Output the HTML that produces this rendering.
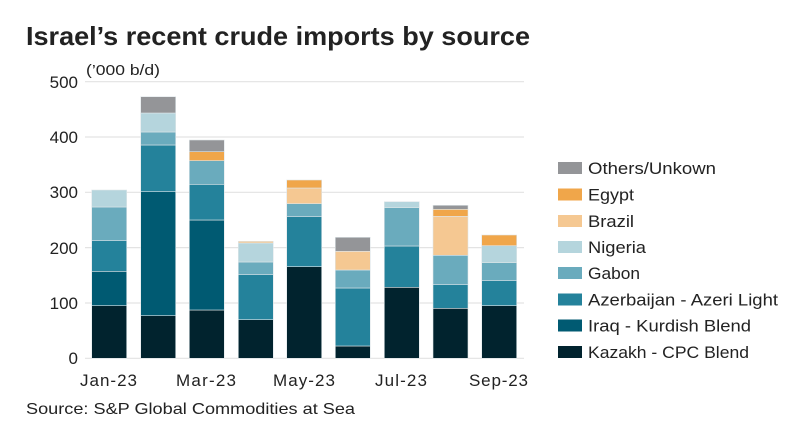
<!DOCTYPE html>
<html><head><meta charset="utf-8"><style>
body{margin:0;background:#fff;}
svg text{font-family:"Liberation Sans",sans-serif;fill:#222;}
</style></head><body>
<svg width="808" height="435" xmlns="http://www.w3.org/2000/svg">
<text x="26" y="45" font-size="26" font-weight="bold" fill="#111" textLength="504" lengthAdjust="spacingAndGlyphs">Israel’s recent crude imports by source</text>
<text x="86" y="75" font-size="15" textLength="74" lengthAdjust="spacingAndGlyphs">(’000 b/d)</text>
<g stroke="#e3e3e3" stroke-width="1.2">
<line x1="85" x2="524" y1="81.7" y2="81.7"/><line x1="85" x2="524" y1="137" y2="137"/>
<line x1="85" x2="524" y1="192.3" y2="192.3"/><line x1="85" x2="524" y1="247.6" y2="247.6"/>
<line x1="85" x2="524" y1="303" y2="303"/><line x1="85" x2="524" y1="358.3" y2="358.3"/>
</g>
<g font-size="17" text-anchor="end">
<text x="78" y="88">500</text><text x="78" y="143">400</text><text x="78" y="198">300</text>
<text x="78" y="254">200</text><text x="78" y="309">100</text><text x="78" y="364">0</text>
</g>
<g stroke="#dfe7ea" stroke-width="0.6">
<rect x="91.7" y="305.7" width="35" height="52.6" fill="#01232e"/>
<rect x="91.7" y="271.3" width="35" height="34.4" fill="#005a72"/>
<rect x="91.7" y="240.7" width="35" height="30.6" fill="#24829b"/>
<rect x="91.7" y="207" width="35" height="33.7" fill="#6aabbd"/>
<rect x="91.7" y="190" width="35" height="17" fill="#b5d5dd"/>
<rect x="140.7" y="315.7" width="35" height="42.6" fill="#01232e"/>
<rect x="140.7" y="191.7" width="35" height="124" fill="#005a72"/>
<rect x="140.7" y="145" width="35" height="46.7" fill="#24829b"/>
<rect x="140.7" y="132" width="35" height="13" fill="#6aabbd"/>
<rect x="140.7" y="113" width="35" height="19" fill="#b5d5dd"/>
<rect x="140.7" y="96.7" width="35" height="16.3" fill="#949598"/>
<rect x="189.3" y="310" width="35" height="48.3" fill="#01232e"/>
<rect x="189.3" y="220" width="35" height="90" fill="#005a72"/>
<rect x="189.3" y="184.3" width="35" height="35.7" fill="#24829b"/>
<rect x="189.3" y="160.7" width="35" height="23.6" fill="#6aabbd"/>
<rect x="189.3" y="151.7" width="35" height="9" fill="#f0a64a"/>
<rect x="189.3" y="140" width="35" height="11.7" fill="#949598"/>
<rect x="238.3" y="319.7" width="35" height="38.6" fill="#01232e"/>
<rect x="238.3" y="274.7" width="35" height="45" fill="#24829b"/>
<rect x="238.3" y="262" width="35" height="12.7" fill="#6aabbd"/>
<rect x="238.3" y="243" width="35" height="19" fill="#b5d5dd"/>
<rect x="238.3" y="241.3" width="35" height="1.7" fill="#f5c892"/>
<rect x="286.7" y="266.7" width="35" height="91.6" fill="#01232e"/>
<rect x="286.7" y="216.7" width="35" height="50" fill="#24829b"/>
<rect x="286.7" y="203.7" width="35" height="13" fill="#6aabbd"/>
<rect x="286.7" y="188" width="35" height="15.7" fill="#f5c892"/>
<rect x="286.7" y="180" width="35" height="8" fill="#f0a64a"/>
<rect x="335.3" y="346" width="35" height="12.3" fill="#01232e"/>
<rect x="335.3" y="288" width="35" height="58" fill="#24829b"/>
<rect x="335.3" y="270" width="35" height="18" fill="#6aabbd"/>
<rect x="335.3" y="251.3" width="35" height="18.7" fill="#f5c892"/>
<rect x="335.3" y="237.3" width="35" height="14" fill="#949598"/>
<rect x="384.3" y="287.3" width="35" height="71" fill="#01232e"/>
<rect x="384.3" y="246" width="35" height="41.3" fill="#24829b"/>
<rect x="384.3" y="207.7" width="35" height="38.3" fill="#6aabbd"/>
<rect x="384.3" y="201.7" width="35" height="6" fill="#b5d5dd"/>
<rect x="433" y="308.3" width="35" height="50" fill="#01232e"/>
<rect x="433" y="284.7" width="35" height="23.6" fill="#24829b"/>
<rect x="433" y="255.3" width="35" height="29.4" fill="#6aabbd"/>
<rect x="433" y="216.3" width="35" height="39" fill="#f5c892"/>
<rect x="433" y="209.3" width="35" height="7" fill="#f0a64a"/>
<rect x="433" y="205.3" width="35" height="4" fill="#949598"/>
<rect x="481.7" y="305.7" width="35" height="52.6" fill="#01232e"/>
<rect x="481.7" y="280.7" width="35" height="25" fill="#24829b"/>
<rect x="481.7" y="262.7" width="35" height="18" fill="#6aabbd"/>
<rect x="481.7" y="245.7" width="35" height="17" fill="#b5d5dd"/>
<rect x="481.7" y="235" width="35" height="10.7" fill="#f0a64a"/>
</g>
<g font-size="17" lengthAdjust="spacingAndGlyphs">
<text x="80" y="386" textLength="57">Jan-23</text>
<text x="176" y="386" textLength="60">Mar-23</text>
<text x="273" y="386" textLength="62">May-23</text>
<text x="375" y="386" textLength="52">Jul-23</text>
<text x="469" y="386" textLength="59">Sep-23</text>
</g>
<text x="26" y="414" font-size="16" textLength="329" lengthAdjust="spacingAndGlyphs">Source: S&amp;P Global Commodities at Sea</text>
<g>
<rect x="558" y="162" width="24" height="12" fill="#949598"/>
<rect x="558" y="188.5" width="24" height="12" fill="#f0a64a"/>
<rect x="558" y="215" width="24" height="12" fill="#f5c892"/>
<rect x="558" y="241" width="24" height="12" fill="#b5d5dd"/>
<rect x="558" y="267" width="24" height="12" fill="#6aabbd"/>
<rect x="558" y="293.5" width="24" height="12" fill="#24829b"/>
<rect x="558" y="319.5" width="24" height="12" fill="#005a72"/>
<rect x="558" y="346" width="24" height="12" fill="#01232e"/>
</g>
<g font-size="16.5">
<text x="588" y="174" textLength="128" lengthAdjust="spacingAndGlyphs">Others/Unkown</text>
<text x="588" y="200.5" textLength="46" lengthAdjust="spacingAndGlyphs">Egypt</text>
<text x="588" y="227" textLength="46" lengthAdjust="spacingAndGlyphs">Brazil</text>
<text x="588" y="253" textLength="58" lengthAdjust="spacingAndGlyphs">Nigeria</text>
<text x="588" y="279" textLength="52" lengthAdjust="spacingAndGlyphs">Gabon</text>
<text x="588" y="305.5" textLength="190" lengthAdjust="spacingAndGlyphs">Azerbaijan - Azeri Light</text>
<text x="588" y="331.5" textLength="163" lengthAdjust="spacingAndGlyphs">Iraq - Kurdish Blend</text>
<text x="588" y="358" textLength="161" lengthAdjust="spacingAndGlyphs">Kazakh - CPC Blend</text>
</g>
</svg>
</body></html>
